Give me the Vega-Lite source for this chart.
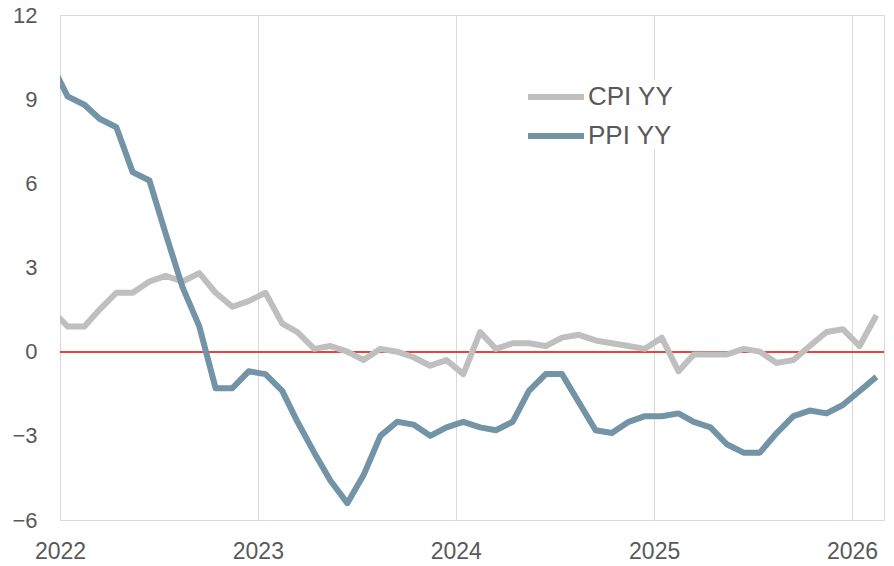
{
  "$schema": "https://vega.github.io/schema/vega-lite/v6.json",
  "width": 824,
  "height": 505,
  "autosize": {"type": "none"},
  "padding": {"left": 60, "top": 15, "right": 10, "bottom": 46},
  "background": "white",
  "config": {
    "font": "Liberation Sans",
    "view": {"stroke": "#d9d9d9", "strokeWidth": 1},
    "axis": {"gridColor": "#d9d9d9", "gridWidth": 1, "domain": false, "ticks": false, "labelColor": "#595959", "labelFontSize": 22, "title": null}
  },
  "data": {"values": [
    {"month": "2021-12-15", "CPI YY": 1.5, "PPI YY": 10.3},
    {"month": "2022-01-15", "CPI YY": 0.9, "PPI YY": 9.1},
    {"month": "2022-02-15", "CPI YY": 0.9, "PPI YY": 8.8},
    {"month": "2022-03-15", "CPI YY": 1.5, "PPI YY": 8.3},
    {"month": "2022-04-15", "CPI YY": 2.1, "PPI YY": 8.0},
    {"month": "2022-05-15", "CPI YY": 2.1, "PPI YY": 6.4},
    {"month": "2022-06-15", "CPI YY": 2.5, "PPI YY": 6.1},
    {"month": "2022-07-15", "CPI YY": 2.7, "PPI YY": 4.2},
    {"month": "2022-08-15", "CPI YY": 2.5, "PPI YY": 2.3},
    {"month": "2022-09-15", "CPI YY": 2.8, "PPI YY": 0.9},
    {"month": "2022-10-15", "CPI YY": 2.1, "PPI YY": -1.3},
    {"month": "2022-11-15", "CPI YY": 1.6, "PPI YY": -1.3},
    {"month": "2022-12-15", "CPI YY": 1.8, "PPI YY": -0.7},
    {"month": "2023-01-15", "CPI YY": 2.1, "PPI YY": -0.8},
    {"month": "2023-02-15", "CPI YY": 1.0, "PPI YY": -1.4},
    {"month": "2023-03-15", "CPI YY": 0.7, "PPI YY": -2.5},
    {"month": "2023-04-15", "CPI YY": 0.1, "PPI YY": -3.6},
    {"month": "2023-05-15", "CPI YY": 0.2, "PPI YY": -4.6},
    {"month": "2023-06-15", "CPI YY": 0.0, "PPI YY": -5.4},
    {"month": "2023-07-15", "CPI YY": -0.3, "PPI YY": -4.4},
    {"month": "2023-08-15", "CPI YY": 0.1, "PPI YY": -3.0},
    {"month": "2023-09-15", "CPI YY": 0.0, "PPI YY": -2.5},
    {"month": "2023-10-15", "CPI YY": -0.2, "PPI YY": -2.6},
    {"month": "2023-11-15", "CPI YY": -0.5, "PPI YY": -3.0},
    {"month": "2023-12-15", "CPI YY": -0.3, "PPI YY": -2.7},
    {"month": "2024-01-15", "CPI YY": -0.8, "PPI YY": -2.5},
    {"month": "2024-02-15", "CPI YY": 0.7, "PPI YY": -2.7},
    {"month": "2024-03-15", "CPI YY": 0.1, "PPI YY": -2.8},
    {"month": "2024-04-15", "CPI YY": 0.3, "PPI YY": -2.5},
    {"month": "2024-05-15", "CPI YY": 0.3, "PPI YY": -1.4},
    {"month": "2024-06-15", "CPI YY": 0.2, "PPI YY": -0.8},
    {"month": "2024-07-15", "CPI YY": 0.5, "PPI YY": -0.8},
    {"month": "2024-08-15", "CPI YY": 0.6, "PPI YY": -1.8},
    {"month": "2024-09-15", "CPI YY": 0.4, "PPI YY": -2.8},
    {"month": "2024-10-15", "CPI YY": 0.3, "PPI YY": -2.9},
    {"month": "2024-11-15", "CPI YY": 0.2, "PPI YY": -2.5},
    {"month": "2024-12-15", "CPI YY": 0.1, "PPI YY": -2.3},
    {"month": "2025-01-15", "CPI YY": 0.5, "PPI YY": -2.3},
    {"month": "2025-02-15", "CPI YY": -0.7, "PPI YY": -2.2},
    {"month": "2025-03-15", "CPI YY": -0.1, "PPI YY": -2.5},
    {"month": "2025-04-15", "CPI YY": -0.1, "PPI YY": -2.7},
    {"month": "2025-05-15", "CPI YY": -0.1, "PPI YY": -3.3},
    {"month": "2025-06-15", "CPI YY": 0.1, "PPI YY": -3.6},
    {"month": "2025-07-15", "CPI YY": 0.0, "PPI YY": -3.6},
    {"month": "2025-08-15", "CPI YY": -0.4, "PPI YY": -2.9},
    {"month": "2025-09-15", "CPI YY": -0.3, "PPI YY": -2.3},
    {"month": "2025-10-15", "CPI YY": 0.2, "PPI YY": -2.1},
    {"month": "2025-11-15", "CPI YY": 0.7, "PPI YY": -2.2},
    {"month": "2025-12-15", "CPI YY": 0.8, "PPI YY": -1.9},
    {"month": "2026-01-15", "CPI YY": 0.2, "PPI YY": -1.4},
    {"month": "2026-02-15", "CPI YY": 1.3, "PPI YY": -0.9}
  ]},
  "layer": [
    {
      "mark": {"type": "rule", "color": "#e5453c", "strokeWidth": 1},
      "encoding": {
        "y": {"datum": 0, "type": "quantitative"}
      }
    },
    {
      "transform": [{"fold": ["CPI YY", "PPI YY"], "as": ["series", "value"]}],
      "mark": {"type": "line", "clip": true, "strokeWidth": 6, "strokeJoin": "round"},
      "encoding": {
        "x": {
          "field": "month",
          "type": "temporal",
          "scale": {"type": "utc", "domain": [{"year": 2022, "month": 1, "date": 1, "utc": true}, {"year": 2026, "month": 3, "date": 1, "utc": true}]},
          "axis": {
            "values": [{"year": 2022, "month": 1, "date": 1, "utc": true}, {"year": 2023, "month": 1, "date": 1, "utc": true}, {"year": 2024, "month": 1, "date": 1, "utc": true}, {"year": 2025, "month": 1, "date": 1, "utc": true}, {"year": 2026, "month": 1, "date": 1, "utc": true}],
            "format": "%Y",
            "labelPadding": 20,
            "labelFontSize": 23,
            "labelFlush": false,
            "labelOverlap": false
          }
        },
        "y": {
          "field": "value",
          "type": "quantitative",
          "scale": {"domain": [-6, 12], "nice": false, "zero": false},
          "axis": {"values": [-6, -3, 0, 3, 6, 9, 12], "labelPadding": 23}
        },
        "color": {
          "field": "series",
          "type": "nominal",
          "scale": {"domain": ["CPI YY", "PPI YY"], "range": ["#bfbfbf", "#7393a6"]},
          "legend": {
            "title": null,
            "orient": "none",
            "legendX": 423,
            "legendY": 65,
            "fillColor": "white",
            "padding": 0,
            "symbolType": "M-3,0H1",
            "symbolSize": 784,
            "symbolStrokeWidth": 6,
            "symbolOffset": 70,
            "labelFontSize": 26,
            "labelColor": "#595959",
            "labelOffset": 1,
            "rowPadding": 9,
            "labelExpr": "datum.label + '\u00a0\u00a0\u00a0\u00a0\u00a0'"
          }
        }
      }
    }
  ]
}
